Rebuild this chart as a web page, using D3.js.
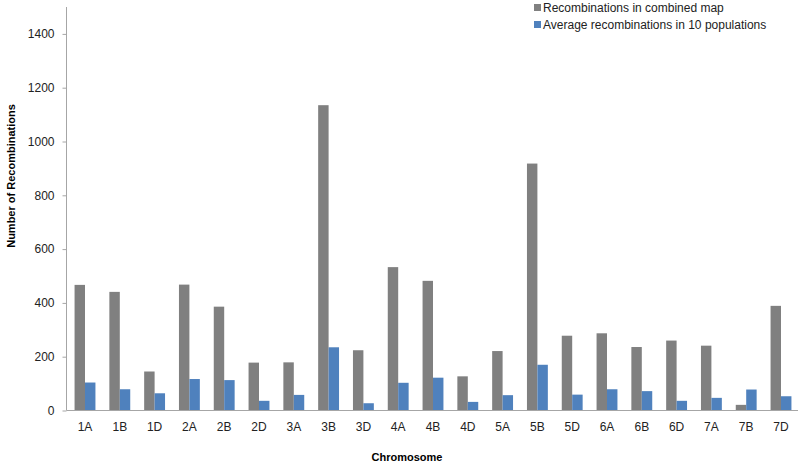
<!DOCTYPE html>
<html>
<head>
<meta charset="utf-8">
<script src="https://cdn.jsdelivr.net/npm/d3@7"></script>
<style>
  body { margin: 0; background: #fff; }
  svg { font-family: "Liberation Sans", Arial, sans-serif; }
</style>
</head>
<body>
<svg width="800" height="464"></svg>
<script>
// Chromosomes and series values
const chromosomes = ["1A","1B","1D","2A","2B","2D","3A","3B","3D","4A","4B","4D",
                     "5A","5B","5D","6A","6B","6D","7A","7B","7D"];
const combined = [467, 441, 145, 468, 386, 178, 179, 1135, 224, 533, 482, 127,
                  221, 918, 278, 287, 236, 260, 241, 21, 389];
const average = [104, 79, 64, 117, 113, 36, 58, 235, 27, 103, 122, 32,
                 57, 170, 59, 79, 72, 36, 47, 78, 53];
const seriesNames = ["Recombinations in combined map", "Average recombinations in 10 populations"];
const colors = ["#808080", "#4f81bd"];
const yTicks = [0, 200, 400, 600, 800, 1000, 1200, 1400];

const svg = d3.select("svg");
const plot = {left: 66.5, right: 798, top: 7, bottom: 410.5};

const x = d3.scaleBand()
  .domain(chromosomes)
  .range([67.6, 798.4])
  .paddingInner(0.4)
  .paddingOuter(0.2);

const x1 = d3.scaleBand()
  .domain([0, 1])
  .range([0, x.bandwidth()]);

const y = d3.scaleLinear()
  .domain([0, 1500])
  .range([plot.bottom, plot.top]);

// Y axis
const yAxis = svg.append("g")
  .attr("transform", `translate(${plot.left},0)`)
  .call(d3.axisLeft(y).tickValues(yTicks).tickFormat(d3.format("d")).tickSize(4).tickPadding(8));
yAxis.select(".domain").attr("stroke", "#a6a6a6").attr("d", `M0,${plot.top}V${plot.bottom}`);
yAxis.selectAll(".tick line").attr("stroke", "#a6a6a6");
yAxis.selectAll(".tick text").attr("font-size", 12).attr("fill", "#222");

// Bars
const rows = chromosomes.map((c, i) => ({c, vals: [combined[i], average[i]]}));
const groups = svg.append("g").selectAll("g")
  .data(rows)
  .join("g")
  .attr("transform", d => `translate(${x(d.c)},0)`);
groups.selectAll("rect")
  .data(d => d.vals.map((v, k) => ({v, k})))
  .join("rect")
  .attr("x", d => x1(d.k))
  .attr("y", d => y(d.v))
  .attr("width", x1.bandwidth())
  .attr("height", d => y(0) - y(d.v))
  .attr("fill", d => colors[d.k]);

// X axis
const xAxis = svg.append("g")
  .attr("transform", `translate(0,${plot.bottom})`)
  .call(d3.axisBottom(x).tickSize(0).tickPadding(12));
xAxis.select(".domain").attr("stroke", "#a6a6a6").attr("d", `M${plot.left},0H${plot.right}`);
xAxis.selectAll(".tick text").attr("font-size", 12).attr("fill", "#222");

// Axis titles
svg.append("text")
  .attr("x", 407).attr("y", 461)
  .attr("text-anchor", "middle")
  .attr("font-size", 11).attr("font-weight", "bold")
  .text("Chromosome");

svg.append("text")
  .attr("transform", "translate(15,176) rotate(-90)")
  .attr("text-anchor", "middle")
  .attr("font-size", 11).attr("font-weight", "bold")
  .text("Number of Recombinations");

// Legend
const legend = svg.append("g").attr("transform", "translate(534,0)");
seriesNames.forEach((name, i) => {
  legend.append("rect")
    .attr("x", 0).attr("y", i * 17 + 4)
    .attr("width", 7).attr("height", 7)
    .attr("fill", colors[i]);
  legend.append("text")
    .attr("x", 9).attr("y", i * 17 + 12)
    .attr("font-size", 12).attr("fill", "#222")
    .text(name);
});
</script>
</body>
</html>
